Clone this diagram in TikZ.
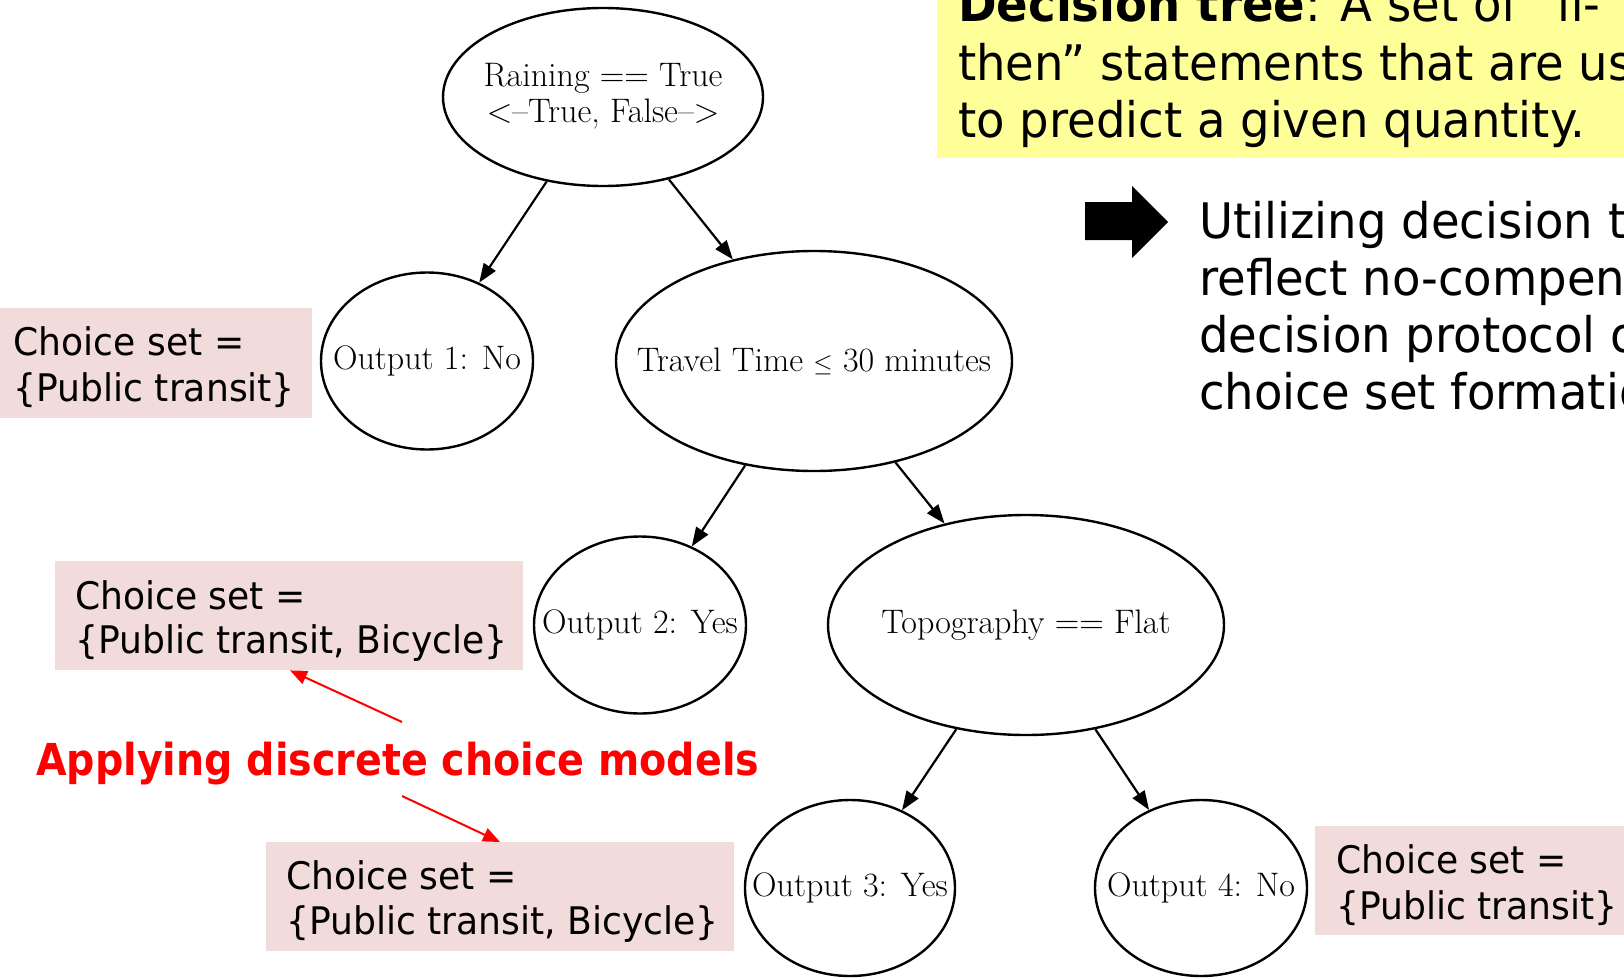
\documentclass[tikz,border=0pt]{standalone}
\usepackage{fontspec}
\usetikzlibrary{shapes.geometric,arrows.meta,calc}
\newfontfamily\slidefont[FakeStretch=0.95]{DejaVu Sans}
\newfontfamily\alertfont[FakeStretch=0.90]{DejaVu Sans}
\definecolor{pinkfill}{HTML}{F2DCDB}
\definecolor{yellowfill}{HTML}{FFFF99}
\definecolor{alertred}{HTML}{FF0000}
\tikzset{
  tree/.style={ellipse, draw, line width=2.4pt, inner sep=0pt},
  treetext/.style={inner sep=0pt, align=center,
    font=\fontsize{34}{36}\selectfont},
  treearrow/.style={line width=2.2pt, -{Triangle[length=19pt,width=14pt]}},
  pinkbox/.style={fill=pinkfill, inner sep=0pt, anchor=north west},
  boxtext/.style={anchor=base west, inner sep=0pt,
    font=\slidefont\fontsize{38}{44}\selectfont},
  slidetext/.style={anchor=base west, inner sep=0pt,
    font=\slidefont\fontsize{49}{56}\selectfont},
  redarrow/.style={draw=alertred, line width=2pt, -{Triangle[length=17pt,width=14pt]}}
}
\begin{document}
\begin{tikzpicture}[x=1pt,y=-1pt]
\useasboundingbox (0,0) rectangle (1624,977);
\clip (0,0) rectangle (1624,977);

% definition panel
\node[fill=yellowfill, inner sep=0pt, anchor=south west,
      minimum width=720pt, minimum height=200pt] (defbox) at (937,158.5) {};
\node[slidetext] (def1) at (958,21) {\textbf{Decision tree}: A set of “if-};
\node[slidetext] (def2) at (958,80) {then” statements that are used};
\node[slidetext] (def3) at (958,137) {to predict a given quantity.};

% block arrow and remark
\fill (1085,202) -- (1132,202) -- (1132,186) -- (1168,222) -- (1132,258)
      -- (1132,240) -- (1085,240) -- cycle;
\node[slidetext] (rem1) at (1199,238) {Utilizing decision trees to};
\node[slidetext] (rem2) at (1199,295) {reflect no-compensatory};
\node[slidetext] (rem3) at (1199,352) {decision protocol of};
\node[slidetext] (rem4) at (1199,409) {choice set formation};

% decision tree: outlines
\node[tree, minimum width=320pt, minimum height=178pt] (root) at (603,97) {};
\node[tree, minimum width=212pt, minimum height=177pt] (out1) at (427,361) {};
\node[tree, minimum width=396pt, minimum height=220pt] (travel) at (814,361) {};
\node[tree, minimum width=212pt, minimum height=177pt] (out2) at (640,625) {};
\node[tree, minimum width=396pt, minimum height=220pt] (topo) at (1026,625) {};
\node[tree, minimum width=210pt, minimum height=176pt] (out3) at (850,888) {};
\node[tree, minimum width=212pt, minimum height=176pt] (out4) at (1201,888) {};

% decision tree: labels
\node[treetext] (roott) at ([yshift=1pt]root.center) {Raining == True\\ <--True, False-->};
\node[treetext] (out1t) at (out1.center) {Output 1: No};
\node[treetext] (travelt) at (travel.center) {Travel Time $\leq$ 30 minutes};
\node[treetext] (out2t) at (out2.center) {Output 2: Yes};
\node[treetext] (topot) at (topo.center) {Topography == Flat};
\node[treetext] (out3t) at (out3.center) {Output 3: Yes};
\node[treetext] (out4t) at (out4.center) {Output 4: No};

\draw[treearrow] (root) -- (out1);
\draw[treearrow] (root) -- (travel);
\draw[treearrow] (travel) -- (out2);
\draw[treearrow] (travel) -- (topo);
\draw[treearrow] (topo) -- (out3);
\draw[treearrow] (topo) -- (out4);

% choice sets
\node[pinkbox, minimum width=312pt, minimum height=110pt] (cs1) at (0,308) {};
\node[boxtext] (cs1a) at (13.5,355) {Choice set =};
\node[boxtext] (cs1b) at (13.5,401) {\{Public transit\}};

\node[pinkbox, minimum width=468pt, minimum height=109pt] (cs2) at (55,561) {};
\node[boxtext] (cs2a) at (75,609) {Choice set =};
\node[boxtext] (cs2b) at (75,653) {\{Public transit, Bicycle\}};

\node[pinkbox, minimum width=468pt, minimum height=109pt] (cs3) at (266,842) {};
\node[boxtext] (cs3a) at (286,889) {Choice set =};
\node[boxtext] (cs3b) at (286,934) {\{Public transit, Bicycle\}};

\node[pinkbox, minimum width=320pt, minimum height=109pt] (cs4) at (1315,826) {};
\node[boxtext] (cs4a) at (1336,873) {Choice set =};
\node[boxtext] (cs4b) at (1336,919) {\{Public transit\}};

% discrete choice annotation
\node[anchor=base west, inner sep=0pt, text=alertred,
      font=\alertfont\bfseries\fontsize{44}{50}\selectfont] (apply) at (36,775)
  {Applying discrete choice models};
\coordinate (up) at (402,722);
\coordinate (down) at (402,796);
\draw[redarrow] (up) -- ([xshift=235pt]cs2.south west);
\draw[redarrow] (down) -- ([xshift=234pt]cs3.north west);
\end{tikzpicture}
\end{document}
